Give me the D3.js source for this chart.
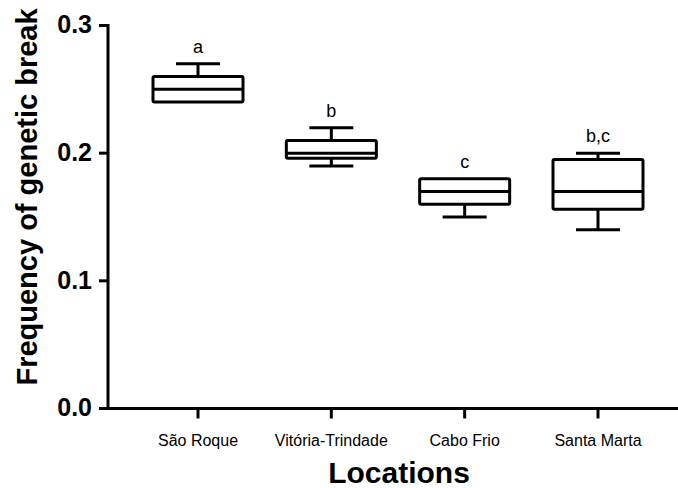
<!DOCTYPE html>
<html>
<head>
<meta charset="utf-8">
<script src="https://cdn.jsdelivr.net/npm/d3@7/dist/d3.min.js"></script>
<style>
  html, body { margin: 0; padding: 0; background: #fff; }
  svg { display: block; font-family: "Liberation Sans", Arial, sans-serif; }
</style>
</head>
<body>
<svg id="chart" width="678" height="488"></svg>
<script>
// ---- data ----
const locations = ["São Roque", "Vitória-Trindade", "Cabo Frio", "Santa Marta"];
const minVals    = [0.24, 0.19, 0.15, 0.14];
const q1Vals     = [0.24, 0.196, 0.16, 0.156];
const medianVals = [0.25, 0.20, 0.17, 0.17];
const q3Vals     = [0.26, 0.21, 0.18, 0.195];
const maxVals    = [0.27, 0.22, 0.18, 0.20];
const groupLetters = ["a", "b", "c", "b,c"];
const yTicks = [0.0, 0.1, 0.2, 0.3];
const yTitle = "Frequency of genetic break";
const xTitle = "Locations";

// ---- layout ----
const svg = d3.select("#chart");
const axisX = 108, y0px = 408.5, y3px = 25.5;

const y = d3.scaleLinear().domain([0, 0.3]).range([y0px, y3px]);
const x = d3.scalePoint().domain(locations).range([198, 598]);
const boxW = 90, capW = 44, sw = 3;

// axes lines
svg.append("line").attr("x1", axisX).attr("x2", axisX)
  .attr("y1", y(0.3) - 1.5).attr("y2", y(0) + 1.5)
  .attr("stroke", "#000").attr("stroke-width", sw);
svg.append("line").attr("x1", axisX - 1.5).attr("x2", 690)
  .attr("y1", y(0)).attr("y2", y(0))
  .attr("stroke", "#000").attr("stroke-width", sw);

// y ticks
const yt = svg.append("g");
yTicks.forEach(t => {
  yt.append("line").attr("x1", axisX - 9).attr("x2", axisX)
    .attr("y1", y(t)).attr("y2", y(t))
    .attr("stroke", "#000").attr("stroke-width", sw);
  yt.append("text").attr("x", 92).attr("y", y(t) - 1).attr("dy", "0.35em")
    .attr("text-anchor", "end").attr("font-weight", "bold").attr("font-size", 25)
    .text(d3.format(".1f")(t));
});

// x ticks
locations.forEach(l => {
  svg.append("line").attr("x1", x(l)).attr("x2", x(l))
    .attr("y1", y(0)).attr("y2", y(0) + 10)
    .attr("stroke", "#000").attr("stroke-width", sw);
  svg.append("text").attr("x", x(l)).attr("y", 446)
    .attr("text-anchor", "middle").attr("font-size", 16)
    .text(l);
});

// boxes
locations.forEach((l, i) => {
  const g = svg.append("g").attr("stroke", "#000").attr("stroke-width", sw)
    .attr("fill", "none").attr("stroke-linejoin", "round");
  const cx = x(l);
  if (maxVals[i] > q3Vals[i]) {
    g.append("line").attr("x1", cx).attr("x2", cx).attr("y1", y(maxVals[i])).attr("y2", y(q3Vals[i]));
    g.append("line").attr("x1", cx - capW / 2).attr("x2", cx + capW / 2).attr("y1", y(maxVals[i])).attr("y2", y(maxVals[i]));
  }
  if (minVals[i] < q1Vals[i]) {
    g.append("line").attr("x1", cx).attr("x2", cx).attr("y1", y(q1Vals[i])).attr("y2", y(minVals[i]));
    g.append("line").attr("x1", cx - capW / 2).attr("x2", cx + capW / 2).attr("y1", y(minVals[i])).attr("y2", y(minVals[i]));
  }
  g.append("rect").attr("x", cx - boxW / 2).attr("width", boxW)
    .attr("y", y(q3Vals[i])).attr("height", y(q1Vals[i]) - y(q3Vals[i]))
    .attr("rx", 1.5).attr("fill", "#fff");
  g.append("line").attr("x1", cx - boxW / 2).attr("x2", cx + boxW / 2)
    .attr("y1", y(medianVals[i])).attr("y2", y(medianVals[i]));
  svg.append("text").attr("x", cx).attr("y", y(maxVals[i]) - 11)
    .attr("text-anchor", "middle").attr("font-size", 18)
    .text(groupLetters[i]);
});

// titles
svg.append("text").attr("transform", "translate(37,197) rotate(-90)")
  .attr("text-anchor", "middle").attr("font-weight", "bold").attr("font-size", 29)
  .text(yTitle);
svg.append("text").attr("x", 399).attr("y", 483)
  .attr("text-anchor", "middle").attr("font-weight", "bold").attr("font-size", 30)
  .text(xTitle);
</script>
</body>
</html>
